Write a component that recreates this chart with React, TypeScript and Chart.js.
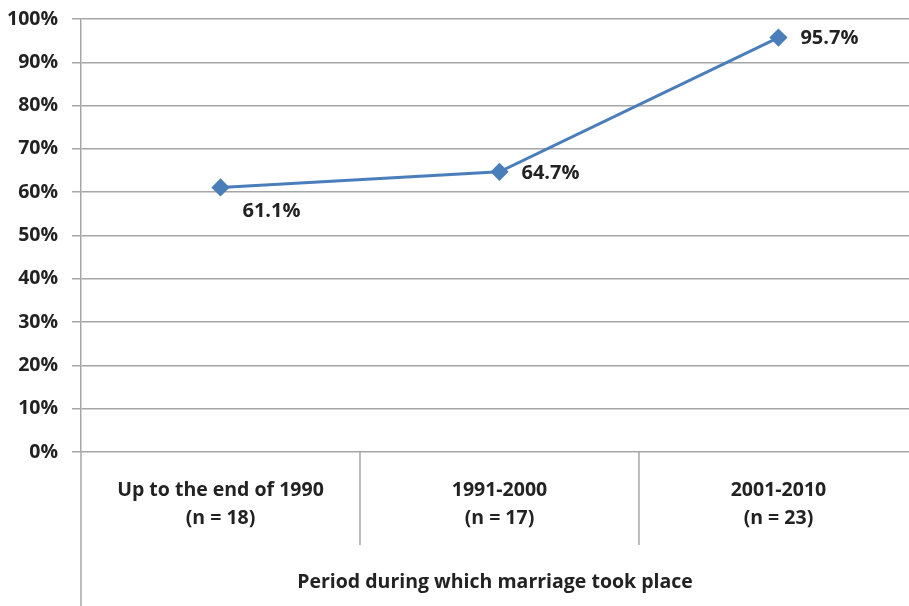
import React, { useEffect, useRef } from "react";
import { Chart, registerables } from "chart.js";

Chart.register(...registerables);

const categories: string[][] = [
  ["Up to the end of 1990", "(n = 18)"],
  ["1991-2000", "(n = 17)"],
  ["2001-2010", "(n = 23)"],
];
const values: number[] = [61.1, 64.7, 95.7];
const valueLabels: string[] = ["61.1%", "64.7%", "95.7%"];
const yTickValues: number[] = [0, 10, 20, 30, 40, 50, 60, 70, 80, 90, 100];
const xAxisTitle = "Period during which marriage took place";

const labelPlacement = ["below", "right", "right"];

// visible part of the category axis (the original plot is cropped on the right)
const X_MIN = -0.5;
const X_MAX = 2.468;

const FONT = "'Open Sans', Lato, sans-serif";
const FSIZE = 19.5;
const TEXT = "#222222";
const GRID = "#a6a6a6";
const LINE = "#4a7ebb";
const CW = 909;
const CH = 606;

const decorations = {
  id: "decorations",
  afterDraw(chart: any) {
    const { ctx, chartArea, scales } = chart;
    const x = scales.x;
    ctx.save();
    ctx.strokeStyle = GRID;
    ctx.lineWidth = 1.5;
    ctx.beginPath();
    ctx.moveTo(chartArea.left, chartArea.bottom);
    ctx.lineTo(chartArea.left, chart.height);
    ctx.stroke();
    for (let i = 1; i < categories.length; i++) {
      const px = x.getPixelForValue(i - 0.5);
      ctx.beginPath();
      ctx.moveTo(px, chartArea.bottom);
      ctx.lineTo(px, chartArea.bottom + 93);
      ctx.stroke();
    }
    const meta = chart.getDatasetMeta(0);
    ctx.fillStyle = TEXT;
    ctx.font = `bold 20px ${FONT}`;
    ctx.textBaseline = "middle";
    ctx.textAlign = "left";
    meta.data.forEach((pt: any, i: number) => {
      const below = labelPlacement[i] === "below";
      ctx.fillText(valueLabels[i], pt.x + 22, pt.y + (below ? 24 : 1));
    });
    ctx.restore();
  },
};

export default function App() {
  const ref = useRef<HTMLCanvasElement>(null);
  useEffect(() => {
    if (!ref.current) return;
    const chart = new Chart(ref.current, {
      type: "line",
      data: {
        datasets: [
          {
            data: values.map((v, i) => ({ x: i, y: v })),
            borderColor: LINE,
            backgroundColor: LINE,
            borderWidth: 3,
            pointStyle: "rectRot",
            pointRadius: 7,
            pointBackgroundColor: LINE,
            pointBorderColor: LINE,
            tension: 0,
          },
        ],
      },
      options: {
        responsive: false,
        animation: false,
        devicePixelRatio: 1,
        layout: { autoPadding: false, padding: { left: 0, right: 0, top: 19, bottom: 0 } },
        plugins: {
          legend: { display: false },
          tooltip: { enabled: false },
        },
        scales: {
          x: {
            type: "linear",
            min: X_MIN,
            max: X_MAX,
            afterBuildTicks: (s: any) => {
              s.ticks = categories.map((_, i) => ({ value: i }));
            },
            afterFit: (s: any) => {
              s.height = 154;
              s.paddingLeft = 0;
              s.paddingRight = 0;
            },
            grid: { display: false, drawTicks: false },
            border: { display: false },
            ticks: {
              autoSkip: false,
              maxRotation: 0,
              padding: 24,
              color: TEXT,
              font: { family: FONT, size: FSIZE, weight: "bold", lineHeight: "28px" },
              callback: (v: any) => categories[Math.round(v)] ?? "",
            },
            title: {
              display: true,
              text: xAxisTitle,
              color: TEXT,
              font: { family: FONT, size: FSIZE, weight: "bold" },
              padding: { top: 0, bottom: 12 },
            },
          },
          y: {
            min: 0,
            max: 100,
            afterFit: (s: any) => {
              s.width = 81;
              s.paddingTop = 0;
              s.paddingBottom = 0;
            },
            afterBuildTicks: (s: any) => {
              s.ticks = yTickValues.map((v) => ({ value: v }));
            },
            grid: { color: GRID, lineWidth: 1.5, tickLength: 9, drawTicks: true },
            border: { display: true, color: GRID, width: 1.5 },
            ticks: {
              padding: 14,
              color: TEXT,
              font: { family: FONT, size: FSIZE, weight: "bold" },
              callback: (v: any) => `${v}%`,
            },
          },
        },
      },
      plugins: [decorations],
    });
    return () => chart.destroy();
  }, []);
  return (
    <div
      style={{
        position: "fixed",
        left: 0,
        top: 0,
        width: CW,
        height: CH,
        overflow: "hidden",
        background: "#ffffff",
      }}
    >
      <canvas
        ref={ref}
        width={CW}
        height={CH}
        style={{ display: "block", width: CW, height: CH }}
      />
    </div>
  );
}
